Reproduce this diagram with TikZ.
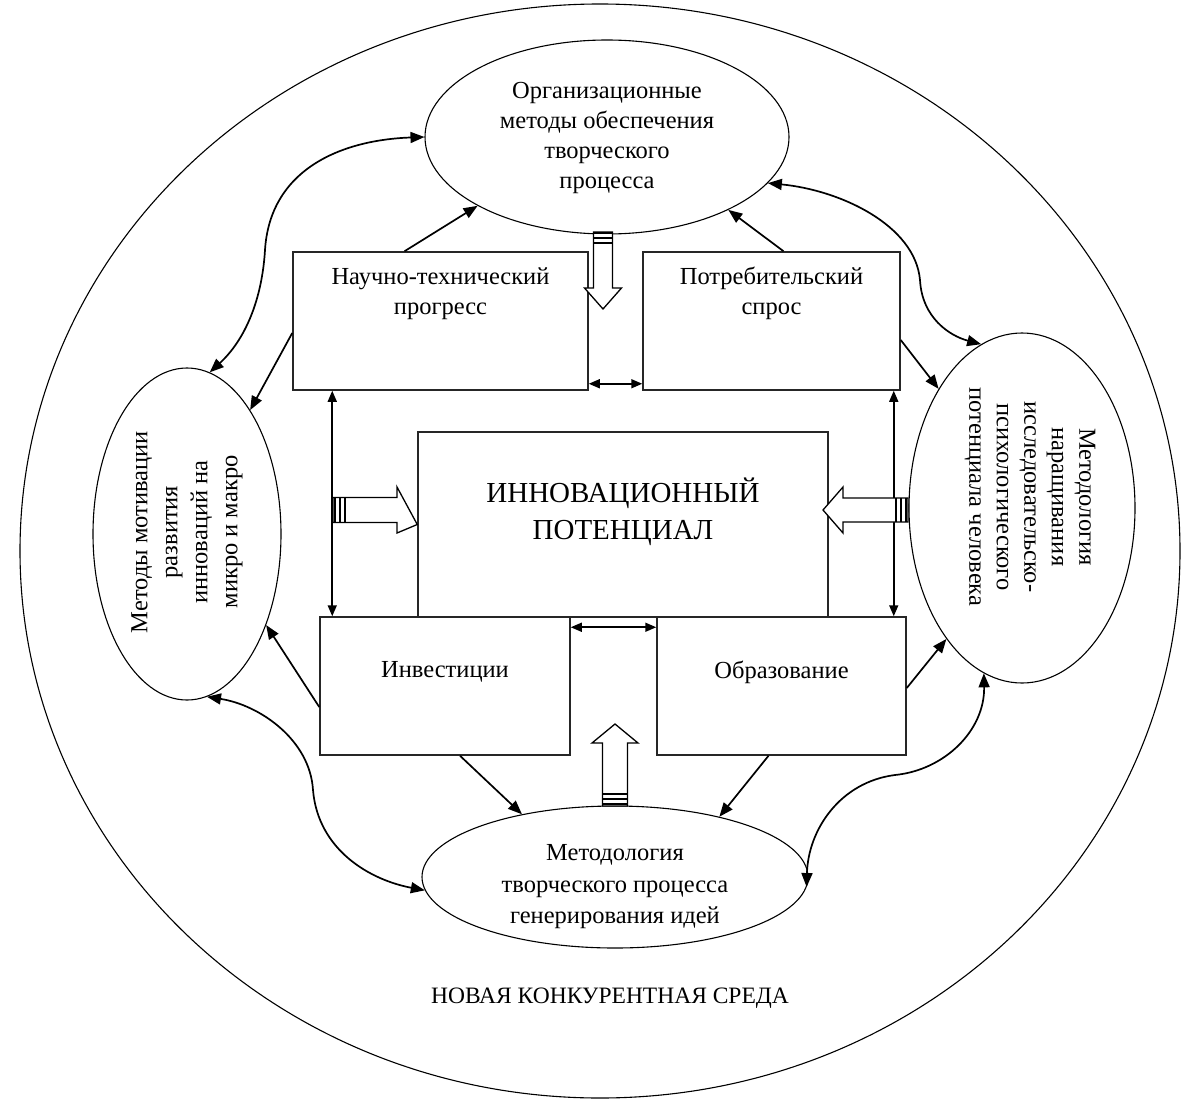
\documentclass[tikz,border=0pt]{standalone}
\usepackage{fontspec}
\setmainfont{Liberation Serif}
\usetikzlibrary{shapes.geometric,arrows.meta,calc}
\begin{document}
\begin{tikzpicture}[x=1pt,y=-1pt,
  boxnode/.style={draw=black!85,line width=1.5pt,inner sep=0pt},
  ellnode/.style={draw,ellipse,line width=1.1pt,inner sep=0pt},
  txt/.style={align=center,inner sep=0pt,font={\fontsize{24.5}{30}\selectfont}},
  bigtxt/.style={align=center,inner sep=0pt,font={\fontsize{29}{37}\selectfont}},
  conn/.style={line width=1.7pt},
  arr/.style={conn,-{Triangle[length=14pt,width=11pt]}},
  darr/.style={conn,{Triangle[length=14pt,width=11pt]}-{Triangle[length=14pt,width=11pt]}},
  sarr/.style={line width=1.6pt,{Triangle[length=11pt,width=9pt]}-{Triangle[length=11pt,width=9pt]}},
  blk/.style={draw,fill=white,line width=1.3pt,line join=miter},
  stripe/.style={line width=1.6pt}
]
\useasboundingbox (0,0) rectangle (1182,1102);

% outer environment
\node[ellnode,minimum width=1160pt,minimum height=1094pt] (env) at (600,551) {};
\node[txt,font={\fontsize{23.5}{28}\selectfont}] (envtxt) at (610,998) {НОВАЯ КОНКУРЕНТНАЯ СРЕДА};

% ellipses
\node[ellnode,minimum width=364pt,minimum height=194pt] (top) at (607,137) {};
\node[txt] (toptxt) at (607,138) {Организационные\\методы обеспечения\\творческого\\процесса};

\node[ellnode,minimum width=188pt,minimum height=332pt] (left) at (187,534) {};
\node[txt,rotate=90] (lefttxt) at (187,532) {Методы мотивации\\развития\\инноваций на\\микро и макро};

\node[ellnode,minimum width=226pt,minimum height=350pt] (right) at (1022,508) {};
\node[txt,rotate=-90,font={\fontsize{24.5}{27.5}\selectfont}] (righttxt) at (1030,497) {Методология\\наращивания\\исследовательско-\\психологического\\потенциала человека};

\node[ellnode,minimum width=386pt,minimum height=142pt] (bot) at (615,877) {};
\node[txt,font={\fontsize{24.5}{31.5}\selectfont}] (bottxt) at (615,887) {Методология\\творческого процесса\\генерирования идей};

% boxes
\node[boxnode,minimum width=295pt,minimum height=138pt] (ntp) at (440.5,321) {};
\node[txt] (ntptxt) at ($(ntp.north)+(0,42)$) {Научно-технический\\прогресс};

\node[boxnode,minimum width=257pt,minimum height=138pt] (pot) at (771.5,321) {};
\node[txt] (pottxt) at ($(pot.north)+(0,42)$) {Потребительский\\спрос};

\node[boxnode,minimum width=410pt,minimum height=185pt] (inn) at (623,524.5) {};
\node[bigtxt] (inntxt) at ($(inn.center)+(0,-13)$) {ИННОВАЦИОННЫЙ\\ПОТЕНЦИАЛ};

\node[boxnode,minimum width=250pt,minimum height=138pt] (inv) at (445,686) {};
\node[txt] (invtxt) at ($(inv.center)+(0,-14)$) {Инвестиции};

\node[boxnode,minimum width=249pt,minimum height=138pt] (obr) at (781.5,686) {};
\node[txt] (obrtxt) at ($(obr.center)+(0,-14)$) {Образование};

% curved double arrows between ellipses
\draw[darr] (left.82) .. controls (245,340) and (262,300) .. (265,250)
  .. controls (270,170) and (340,140) .. (top.180);
\draw[darr] (top.-16) .. controls (840,190) and (915,225) .. (920,280)
  .. controls (922,318) and (950,336) .. (right.104.7);
\draw[darr] (left.-83) .. controls (260,705) and (310,740) .. (313,790)
  .. controls (318,850) and (370,880) .. (bot.184);
\draw[darr] (right.257.2) .. controls (985,730) and (945,770) .. (895,775)
  .. controls (840,782) and (808,830) .. (bot.-3);

% straight arrows from boxes to ellipses
\draw[arr] ([xshift=-36pt]ntp.north) -- (top.208);
\draw[arr] ([xshift=12pt]pot.north) -- (top.-31);
\draw[arr] ([yshift=-12pt]ntp.west) -- (left.63);
\draw[arr] ([yshift=-19pt]pot.east) -- (right.125);
\draw[arr] ([yshift=-21pt]inv.west) -- (left.-49);
\draw[arr] ([yshift=-2pt]obr.east) -- (right.-120);
\draw[arr] ([xshift=15pt]inv.south) -- (bot.146);
\draw[arr] ([xshift=-13pt]obr.south) -- (bot.30);

% double arrows between boxes
\draw[sarr] ([yshift=7pt]ntp.south east) -- ([yshift=7pt]ntp.south east -| pot.west);
\draw[sarr] ([yshift=-11pt]inv.north east) -- ([yshift=-11pt]inv.north east -| obr.west);
\draw[sarr] ([xshift=40pt]ntp.south west) -- ([xshift=40pt]ntp.south west |- inv.north);
\draw[sarr] ([xshift=-7pt]pot.south east) -- ([xshift=-7pt]pot.south east |- obr.north);

% block arrows
\coordinate (ta) at (603,232);
\coordinate (tb) at (603,309);
\draw[blk] (593.5,232) -- (593.5,288) -- (584.5,288) -- (tb) -- (621.5,288) -- (612.5,288) -- (612.5,232) -- cycle;
\foreach \yy in {233,238,243} \draw[stripe] (593.5,\yy) -- (612.5,\yy);

\coordinate (la) at (333,510);
\draw[blk] (333,497.5) -- (397,497.5) -- (397,487) -- (inn.west) -- (397,533) -- (397,522.5) -- (333,522.5) -- cycle;
\foreach \xx in {335,340,345} \draw[stripe] (\xx,497.5) -- (\xx,522.5);

\coordinate (ra) at (908,510);
\draw[blk] (908,498) -- (843,498) -- (843,487) -- (823,510) -- (843,533) -- (843,522) -- (908,522) -- cycle;
\foreach \xx in {896,901,906} \draw[stripe] (\xx,498) -- (\xx,522);

\coordinate (ba) at (615,806);
\coordinate (bb) at (615,724);
\draw[blk] (602.5,806) -- (602.5,743) -- (592,743) -- (bb) -- (638,743) -- (627.5,743) -- (627.5,806) -- cycle;
\foreach \yy in {794,799,804} \draw[stripe] (602.5,\yy) -- (627.5,\yy);
\end{tikzpicture}
\end{document}
